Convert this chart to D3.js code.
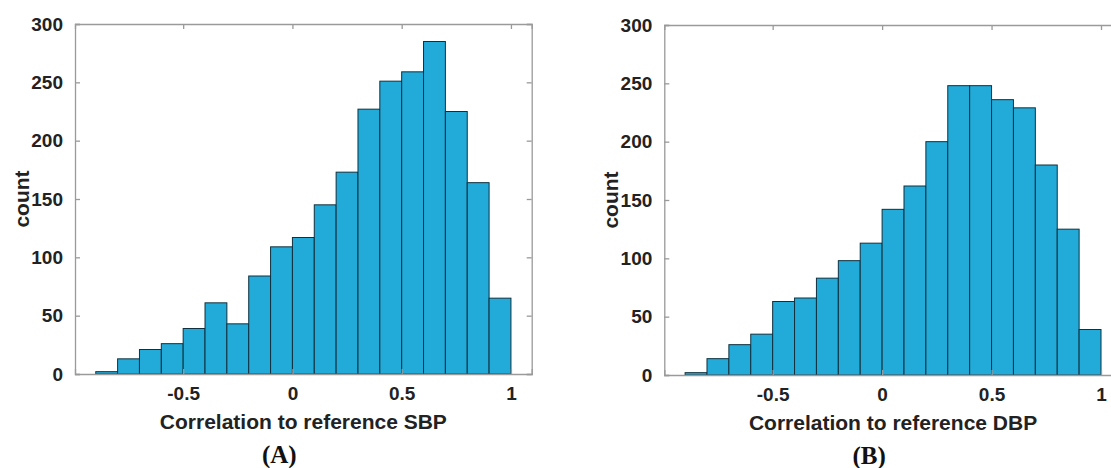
<!DOCTYPE html>
<html>
<head>
<meta charset="utf-8">
<script src="https://cdn.jsdelivr.net/npm/d3@7"></script>
<style>
    body { margin: 0; background: #fff; }
    svg { display: block; }
    .tick text { font-family: "Liberation Sans", Arial, sans-serif; font-weight: bold; fill: #222; }
</style>
</head>
<body>
<svg id="chart" width="1111" height="468"></svg>
<script>
// histogram bins (left edges), width 0.1
var binStarts = [-0.9, -0.8, -0.7, -0.6, -0.5, -0.4, -0.3, -0.2, -0.1, 0.0,
    0.1, 0.2, 0.3, 0.4, 0.5, 0.6, 0.7, 0.8, 0.9];
var binWidth = 0.1;

// counts
var countsSBP = [2, 13, 21, 26, 39, 61, 43, 84, 109, 117, 145, 173, 227, 251, 259, 285, 225, 164, 65];
var countsDBP = [2, 14, 26, 35, 63, 66, 83, 98, 113, 142, 162, 200, 248, 248, 236, 229, 180, 125, 39];

var xTicks = [-0.5, 0, 0.5, 1];
var yTicks = [0, 50, 100, 150, 200, 250, 300];

var xLabels = ['Correlation to reference SBP', 'Correlation to reference DBP'];
var panelTags = ['(A)', '(B)'];

var svg = d3.select('#chart');

var panels = [
    {left: 75, right: 531.7, top: 24, bottom: 374, counts: countsSBP, xLabel: xLabels[0], tag: panelTags[0]},
    {left: 664.3, right: 1121.8, top: 25, bottom: 375, counts: countsDBP, xLabel: xLabels[1], tag: panelTags[1]}
];

panels.forEach(function (p) {
    drawHistogram(p);
});

function drawHistogram(p) {
    var xScale = d3.scaleLinear()
        .domain([-0.995, 1.095])
        .range([p.left, p.right]);

    var yScale = d3.scaleLinear()
        .domain([0, 300])
        .range([p.bottom, p.top]);

    var g = svg.append('g');

    var bins = binStarts.map(function (b, i) {
        return {x0: b, x1: b + binWidth, count: p.counts[i]};
    });

    // bars
    g.append('g').selectAll('rect')
        .data(bins)
        .enter().append('rect')
        .attr('x', d => xScale(d.x0))
        .attr('y', d => yScale(d.count))
        .attr('width', d => xScale(d.x1) - xScale(d.x0))
        .attr('height', d => yScale(0) - yScale(d.count))
        .style('fill', '#22abd9')
        .style('stroke', '#10303f')
        .style('stroke-width', 1);

    // axes, MATLAB style box with ticks pointing inward
    var axisColor = '#9a9a9a';

    // plain hyphen for negatives, like the original
    var fmt = function (d) { return String(d); };

    var xAxis = d3.axisBottom(xScale).tickValues(xTicks).tickSize(-5).tickPadding(13)
        .tickFormat(fmt);
    var xAxisTop = d3.axisTop(xScale).tickValues(xTicks).tickSize(-5).tickFormat('');
    var yAxis = d3.axisLeft(yScale).tickValues(yTicks).tickSize(-5).tickPadding(12)
        .tickFormat(fmt);
    var yAxisRight = d3.axisRight(yScale).tickValues(yTicks).tickSize(-5).tickFormat('');

    g.append('g')
        .attr('transform', 'translate(0,' + p.bottom + ')')
        .call(xAxis)
        .call(styleAxis);

    g.append('g')
        .attr('transform', 'translate(0,' + p.top + ')')
        .call(xAxisTop)
        .call(styleAxis);

    g.append('g')
        .attr('transform', 'translate(' + p.left + ',0)')
        .call(yAxis)
        .call(styleAxis);

    g.append('g')
        .attr('transform', 'translate(' + p.right + ',0)')
        .call(yAxisRight)
        .call(styleAxis);

    function styleAxis(sel) {
        sel.select('.domain').attr('stroke', axisColor).attr('stroke-width', 1.3);
        sel.selectAll('.tick line').attr('stroke', axisColor).attr('stroke-width', 1.3);
        sel.selectAll('.tick text').style('font-size', '19px').attr('fill', '#222');
    }

    var cx = (p.left + p.right) / 2;

    g.append('text')
        .attr('x', cx)
        .attr('y', p.bottom + 55)
        .attr('text-anchor', 'middle')
        .style('font-family', '"Liberation Sans", Arial, sans-serif')
        .style('font-weight', 'bold')
        .style('font-size', '21px')
        .style('fill', '#222')
        .text(p.xLabel);

    g.append('text')
        .attr('transform', 'translate(' + (p.left - 46) + ',' + ((p.top + p.bottom) / 2) + ') rotate(-90)')
        .attr('text-anchor', 'middle')
        .style('font-family', '"Liberation Sans", Arial, sans-serif')
        .style('font-weight', 'bold')
        .style('font-size', '21px')
        .style('fill', '#222')
        .text('count');

    g.append('text')
        .attr('x', cx - 24)
        .attr('y', p.bottom + 89)
        .attr('text-anchor', 'middle')
        .style('font-family', '"Liberation Serif", "Times New Roman", serif')
        .style('font-weight', 'bold')
        .style('font-size', '25px')
        .style('fill', '#111')
        .text(p.tag);
}
</script>
</body>
</html>
